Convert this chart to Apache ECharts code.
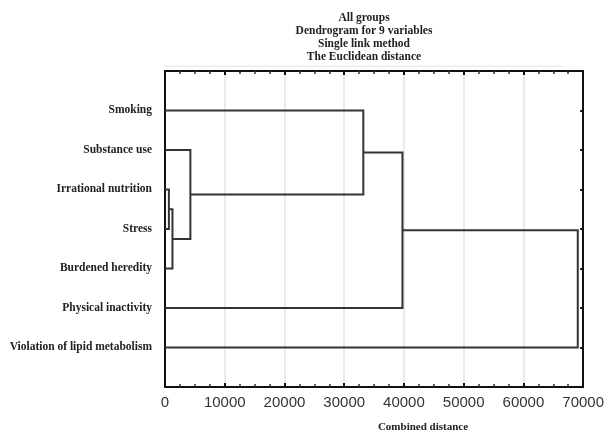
<!DOCTYPE html>
<html>
<head>
<meta charset="utf-8">
<script src="https://cdn.jsdelivr.net/npm/echarts@6/dist/echarts.min.js"></script>
<style>
  html, body { margin: 0; padding: 0; background: #fff; }
  #chart { width: 607px; height: 432px; }
</style>
</head>
<body>
<div id="chart"></div>
<script>
// leaves, top to bottom
const variables = [
  "Smoking",
  "Substance use",
  "Irrational nutrition",
  "Stress",
  "Burdened heredity",
  "Physical inactivity",
  "Violation of lipid metabolism"
];
// merges: [node a, node b, linkage distance]; new nodes get ids 7, 8, ...
const merges = [
  [2, 3, 650],
  [7, 4, 1250],
  [1, 8, 4250],
  [0, 9, 33200],
  [10, 5, 39750],
  [11, 6, 69100]
];
const xTicks = [0, 10000, 20000, 30000, 40000, 50000, 60000, 70000];
const titleLines = [
  "All groups",
  "Dendrogram for 9 variables",
  "Single link method",
  "The Euclidean distance"
];

// node positions: y = row (1..7), x = height
const nodes = variables.map((v, i) => ({ y: i + 1, h: 0 }));
const links = [];
merges.forEach(m => {
  const a = nodes[m[0]], b = nodes[m[1]], d = m[2];
  links.push({ coords: [[a.h, a.y], [d, a.y], [d, b.y], [b.h, b.y]] });
  nodes.push({ y: (a.y + b.y) / 2, h: d });
});

const serif = "Liberation Serif";
const chart = echarts.init(document.getElementById("chart"));

function xAxisOpt(pos) {
  return {
    type: "value",
    position: pos,
    min: xTicks[0],
    max: xTicks[xTicks.length - 1],
    interval: 10000,
    axisLine: { show: true, onZero: false, lineStyle: { color: "#111", width: 2 } },
    axisTick: { show: true, inside: true, length: 4, lineStyle: { color: "#111", width: 2 } },
    minorTick: { show: true, splitNumber: 4, length: 3, lineStyle: { color: "#333", width: 1.5 } },
    splitLine: { show: false },
    axisLabel: { show: false }
  };
}
function yAxisOpt(pos) {
  return {
    type: "value",
    position: pos,
    min: 0,
    max: 8,
    interval: 1,
    inverse: true,
    axisLine: { show: true, onZero: false, lineStyle: { color: "#111", width: 2 } },
    axisTick: { show: true, inside: true, length: 3, lineStyle: { color: "#111", width: 2 } },
    splitLine: { show: false },
    axisLabel: { show: false }
  };
}

// bottom axis carries labels and the light vertical grid
const xb = xAxisOpt("bottom");
xb.axisLabel = {
  show: true,
  margin: 8,
  fontFamily: "Liberation Sans",
  fontSize: 15,
  color: "#333",
  formatter: v => String(v)
};
xb.splitLine = { show: true, lineStyle: { color: "#e4e4e4", width: 1.5 } };

// left axis carries the variable names
const yl = yAxisOpt("left");
yl.axisTick = { show: false };
yl.axisLabel = {
  show: true,
  margin: 13,
  fontFamily: serif,
  fontWeight: "bold",
  fontSize: 11.5,
  color: "#222",
  formatter: v => variables[v - 1] || ""
};

chart.setOption({
  animation: false,
  grid: { left: 165, right: 20, top: 71, bottom: 45 },
  xAxis: [xb, xAxisOpt("top")],
  yAxis: [yl, yAxisOpt("right")],
  graphic: [
    {
      type: "line",
      shape: { x1: 164, y1: 66, x2: 563, y2: 66 },
      style: { stroke: "#e2e2e2", lineWidth: 1 }
    },
    {
      type: "text",
      x: 364,
      y: 12,
      style: {
        text: titleLines.join("\n"),
        align: "center",
        fontFamily: serif,
        fontWeight: "bold",
        fontSize: 11.5,
        lineHeight: 13,
        fill: "#222"
      }
    },
    {
      type: "text",
      x: 423,
      y: 422,
      style: {
        text: "Combined distance",
        align: "center",
        fontFamily: serif,
        fontWeight: "bold",
        fontSize: 11,
        fill: "#222"
      }
    }
  ],
  series: [
    {
      type: "lines",
      coordinateSystem: "cartesian2d",
      polyline: true,
      silent: true,
      lineStyle: { color: "#333", width: 2, opacity: 1 },
      data: links
    }
  ]
});
</script>
</body>
</html>
